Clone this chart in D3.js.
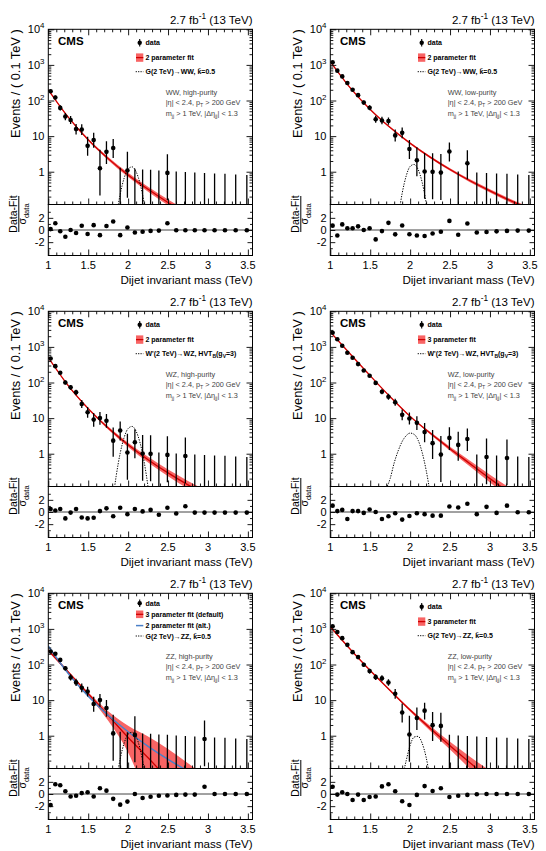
<!DOCTYPE html>
<html>
  <head>
    <meta charset="utf-8">
    <title>Dijet invariant mass fits</title>
    <script src="https://d3js.org/d3.v7.min.js"></script>
    <style>
      body { margin: 0; background: #fff; }
      text { font-family: "Liberation Sans", Arial, Helvetica, sans-serif; }
    </style>
  </head>
  <body>
    <script>
        // dijet mass binning (TeV)
        var binEdges = [1.000, 1.058, 1.118, 1.181, 1.246, 1.313, 1.383, 1.455, 1.530, 1.607, 1.687,
            1.770, 1.856, 1.945, 2.037, 2.132, 2.231, 2.332, 2.438, 2.546, 2.659, 2.775, 2.895,
            3.019, 3.147, 3.279, 3.416, 3.558];
        var xTickValues = [1, 1.5, 2, 2.5, 3, 3.5];
        var xTickLabels = ["1", "1.5", "2", "2.5", "3", "3.5"];
        var logTickPowers = [0, 1, 2, 3, 4];
        var pullTickValues = [-2, 0, 2];
        var pullTickLabels = ["-2", "0", "2"];

        var fitX = [1.0, 1.25, 1.5, 1.75, 2.0, 2.25, 2.5, 2.75, 3.0, 3.25, 3.5];

        // WW high-purity
        var wwHpCounts = [106, 73, 39, 23, 19, 11, 11, 4, 6, 1, 3, 4, 0, 1, 0, 0, 0, 0, 1, 0, 0, 0, 0, 0, 0, 0, 0];
        var wwHpPulls = [0.15, 1.1, -0.2, -1.1, 0, -0.5, 0.7, -0.65, 0.8, -0.85, 0.65, 1.4, -0.85, 0.4,
            -0.4, -0.3, -0.15, -0.1, 1.1, -0.05, -0.05, -0.05, -0.05, -0.05, -0.05, -0.05, -0.05];
        var wwHpFit = [200, 34, 7.9, 2.33, 0.81, 0.32, 0.137, 0.064, 0.032, 0.017, 0.0094];
        var wwHpBand = [0.025, 0.02, 0.03, 0.045, 0.06, 0.07, 0.08, 0.09, 0.1, 0.11, 0.12];
        var wwHpSigX = [1.86, 1.9, 1.95, 2.0, 2.05, 2.1, 2.15, 2.2, 2.25];
        var wwHpSig = [0.072, 0.23, 0.66, 1.19, 1.37, 1.0, 0.46, 0.135, 0.025];

        // WW low-purity
        var wwLpCounts = [684, 414, 300, 201, 134, 99, 63, 47, 23, 22, 22, 9, 11, 4, 2, 1, 1, 1, 4, 0, 2, 0, 0, 0, 0, 0, 0];
        var wwLpPulls = [0.72, -0.9, 0.92, 0.28, 0.3, 0.6, 0, 0.28, -1.55, -0.18, 1.18, -0.72, 0.75, -0.7,
            -0.9, -0.98, -0.58, -0.3, 1.5, -0.78, 1.08, -0.42, -0.32, -0.22, -0.15, -0.1, -0.1];
        var wwLpFit = [1240, 226, 56, 17.4, 6.3, 2.57, 1.15, 0.556, 0.29, 0.156, 0.0886];
        var wwLpBand = [0.02, 0.015, 0.015, 0.02, 0.025, 0.03, 0.035, 0.04, 0.045, 0.05, 0.055];
        var wwLpSigX = [1.86, 1.9, 1.95, 2.0, 2.05, 2.1, 2.15, 2.2, 2.25];
        var wwLpSig = [0.07, 0.245, 0.75, 1.41, 1.6, 1.16, 0.51, 0.137, 0.022];

        // WZ high-purity
        var wzHpCounts = [275, 173, 118, 65, 49, 37, 18, 11, 7, 8, 7, 2, 4, 1, 2, 1, 1, 0, 1, 0, 1, 0, 0, 0, 0, 0, 0];
        var wzHpPulls = [0.5, 0.25, 0.5, -1.05, -0.1, 0.5, -0.9, -1.05, -0.95, 0.15, 0.6, -0.7, 0.7, -0.35,
            0.5, 0.1, 0.35, -0.45, 0.7, -0.25, 0.95, -0.1, -0.1, -0.1, -0.1, -0.1, -0.1];
        var wzHpFit = [500, 81.5, 18.5, 5.27, 1.78, 0.68, 0.289, 0.133, 0.066, 0.034, 0.0186];
        var wzHpBand = [0.02, 0.02, 0.025, 0.04, 0.06, 0.08, 0.095, 0.11, 0.12, 0.13, 0.14];
        var wzHpSigX = [1.8, 1.85, 1.9, 1.95, 2.0, 2.05, 2.1, 2.15, 2.2, 2.25, 2.3];
        var wzHpSig = [0.035, 0.234, 1.02, 2.86, 5.1, 5.85, 4.27, 2.0, 0.6, 0.115, 0.014];

        // WZ low-purity
        var wzLpCounts = [1450, 980, 676, 445, 332, 230, 157, 116, 75, 44, 33, 24, 11, 9, 7, 4, 2, 1, 3, 2, 3, 0, 1, 0, 1, 0, 0];
        var wzLpPulls = [1.05, 0.15, 0.35, -1.15, 0.15, 0.15, -0.15, 0.4, 0, -1.15, -0.7, -0.2, -1.25, -0.65,
            -0.2, -0.35, -0.6, -0.6, 0.9, 0.75, 1.35, -0.35, 0.85, -0.15, 1.05, -0.05, -0.05];
        var wzLpFit = [2630, 631, 155, 39.8, 11.2, 3.8, 1.38, 0.525, 0.2, 0.079, 0.032];
        var wzLpBand = [0.015, 0.01, 0.01, 0.015, 0.02, 0.035, 0.055, 0.08, 0.11, 0.14, 0.17];
        var wzLpSigX = [1.65, 1.7, 1.75, 1.8, 1.85, 1.9, 1.95, 2.0, 2.05, 2.1, 2.15, 2.2, 2.25, 2.3];
        var wzLpSig = [0.04, 0.1, 0.2, 0.55, 1.2, 2.2, 3.2, 3.8, 3.5, 2.4, 1.1, 0.35, 0.08, 0.015];

        // ZZ high-purity
        var zzHpCounts = [135, 120, 85, 51, 29, 22, 16, 13, 6, 8, 5, 1, 0, 0, 1, 0, 0, 0, 0, 0, 0, 0, 1, 0, 0, 0, 0];
        var zzHpPulls = [-1.8, 1.6, 1.45, 0.45, -0.4, -0.3, 0.15, 0.3, -0.4, 0.95, 0.55, -0.8, -1.75, -1.25,
            0, -0.65, -0.45, -0.3, -0.25, -0.15, -0.1, -0.1, 1.2, 0, 0, 0, 0];
        var zzHpFit = [251, 61.7, 15.1, 3.72, 0.89, 0.24, 0.06, 0.014, 0.0032, 0.0008, 0.0002];
        var zzHpBandUp = [0.04, 0.03, 0.04, 0.12, 0.33, 0.6, 0.85, 1.08, 1.3, 1.5, 1.7];
        var zzHpBandDn = [0.04, 0.03, 0.05, 0.15, 0.42, 1.2, 2, 2, 2, 2, 2];
        var zzHpAlt = [330, 55.6, 12.9, 3.77, 1.29, 0.505, 0.217, 0.101, 0.05, 0.027, 0.0148];
        var zzHpSigX = [1.86, 1.9, 1.95, 2.0, 2.05, 2.1, 2.15, 2.2, 2.25];
        var zzHpSig = [0.07, 0.22, 0.62, 1.1, 1.25, 0.95, 0.42, 0.12, 0.025];

        // ZZ low-purity
        var zzLpCounts = [685, 489, 346, 232, 149, 113, 71, 49, 34, 33, 26, 13, 4, 1, 3, 5, 2, 2, 0, 0, 0, 0, 0, 0, 0, 0, 0];
        var zzLpPulls = [1.2, -0.1, 0.3, 0, -1.0, -0.1, -1.0, -0.5, -0.4, 1.25, 1.6, 0.45, -1.2, -1.8,
            -0.15, 1.3, 0.5, 0.95, -0.5, -0.3, -0.15, -0.05, 0, 0, 0, 0, 0];
        var zzLpFit = [1148, 269, 67.6, 18.6, 5.25, 1.62, 0.525, 0.174, 0.06, 0.022, 0.0079];
        var zzLpBand = [0.02, 0.015, 0.015, 0.025, 0.04, 0.07, 0.11, 0.17, 0.24, 0.3, 0.36];
        var zzLpSigX = [1.9, 1.95, 2.0, 2.05, 2.1, 2.15, 2.2, 2.25, 2.3];
        var zzLpSig = [0.06, 0.197, 0.54, 0.917, 0.96, 0.62, 0.25, 0.06, 0.01];

        var sigWW = ["G(2 TeV)\u2192WW, k\u0303=0.5"];
        var sigWZ = ["W'(2 TeV)\u2192WZ, HVT", ["B", "sub"], "(g", ["V", "sub"], "=3)"];
        var sigZZ = ["G(2 TeV)\u2192ZZ, k\u0303=0.5"];
        var cuts1 = ["|\u03b7| < 2.4, p", ["T", "sub"], " > 200 GeV"];
        var cuts2 = ["m", ["jj", "sub"], " > 1 TeV, |\u0394\u03b7", ["jj", "sub"], "| < 1.3"];

        var panels = [
            {col: 0, row: 0, counts: wwHpCounts, pulls: wwHpPulls, fit: wwHpFit, up: wwHpBand, dn: wwHpBand,
             sigX: wwHpSigX, sig: wwHpSig, fitName: "2 parameter fit", sigName: sigWW, region: "WW, high-purity"},
            {col: 1, row: 0, counts: wwLpCounts, pulls: wwLpPulls, fit: wwLpFit, up: wwLpBand, dn: wwLpBand,
             sigX: wwLpSigX, sig: wwLpSig, fitName: "2 parameter fit", sigName: sigWW, region: "WW, low-purity"},
            {col: 0, row: 1, counts: wzHpCounts, pulls: wzHpPulls, fit: wzHpFit, up: wzHpBand, dn: wzHpBand,
             sigX: wzHpSigX, sig: wzHpSig, fitName: "2 parameter fit", sigName: sigWZ, region: "WZ, high-purity"},
            {col: 1, row: 1, counts: wzLpCounts, pulls: wzLpPulls, fit: wzLpFit, up: wzLpBand, dn: wzLpBand,
             sigX: wzLpSigX, sig: wzLpSig, fitName: "3 parameter fit", sigName: sigWZ, region: "WZ, low-purity"},
            {col: 0, row: 2, counts: zzHpCounts, pulls: zzHpPulls, fit: zzHpFit, up: zzHpBandUp, dn: zzHpBandDn,
             alt: zzHpAlt, sigX: zzHpSigX, sig: zzHpSig, fitName: "3 parameter fit (default)",
             altName: "2 parameter fit (alt.)", sigName: sigZZ, region: "ZZ, high-purity"},
            {col: 1, row: 2, counts: zzLpCounts, pulls: zzLpPulls, fit: zzLpFit, up: zzLpBand, dn: zzLpBand,
             sigX: zzLpSigX, sig: zzLpSig, fitName: "3 parameter fit", sigName: sigZZ, region: "ZZ, low-purity"}
        ];

        var fL = 48.3, fR = 252.5, fT = 29.3, fM = 204.5, fB = 255.5;
        var bandColor = "#f86464", lineColor = "#d00000", altColor = "#4a80c8";

        var svg = d3.select("body").append("svg")
            .attr("width", 546)
            .attr("height", 851)
        ;

        // text with sub/superscript pieces
        function rich(t, parts, size) {
            var off = 0;
            parts.forEach(function(p) {
                var s = typeof p === "string" ? p : p[0];
                var kind = typeof p === "string" ? null : p[1];
                var target = kind === "sub" ? size * 0.3 : (kind === "sup" ? -size * 0.45 : 0);
                t.append("tspan")
                    .attr("dy", target - off)
                    .attr("font-size", kind ? size * 0.72 : size)
                    .text(s);
                off = target;
            });
            return t;
        }

        function ticks(g, axis, tr) {
            var a = g.append("g").attr("transform", tr).call(axis);
            a.select(".domain").remove();
            a.selectAll("text").remove();
            a.selectAll("line").attr("stroke", "#000").attr("stroke-width", 0.9);
        }

        function poissonLo(n) {
            if (n === 0) return 0;
            return n * Math.pow(1 - 1 / (9 * n) - 1 / (3 * Math.sqrt(n)), 3);
        }
        function poissonHi(n) {
            if (n === 0) return 1.148;
            return n + Math.sqrt(n + 0.75) + 1;
        }

        var minorX = d3.range(11, 36).map(function(d) { return d / 10; })
            .filter(function(d) { return xTickValues.indexOf(d) < 0; });
        var minorY = [];
        [-1, 0, 1, 2, 3].forEach(function(p) {
            for (var k = 2; k <= 9; k++) {
                var v = k * Math.pow(10, p);
                if (v > 0.12) minorY.push(v);
            }
        });

        panels.forEach(function(p, k) {
            var g = svg.append("g")
                .attr("transform", "translate(" + (p.col * 282) + "," + (p.row * 282) + ")");

            var x = d3.scaleLinear()
                .domain([binEdges[0], binEdges[binEdges.length - 1]])
                .range([fL, fR]);
            var y = d3.scaleLog()
                .domain([0.12, 10000])
                .range([fM, fT]);
            var yr = d3.scaleLinear()
                .domain([-4.2, 4.2])
                .range([fB, fM]);

            g.append("clipPath").attr("id", "clip" + k)
                .append("rect")
                .attr("x", fL).attr("y", fT)
                .attr("width", fR - fL).attr("height", fM - fT);
            var plot = g.append("g").attr("clip-path", "url(#clip" + k + ")");

            var pts = p.counts.map(function(n, i) {
                var w = binEdges[i + 1] - binEdges[i];
                return {
                    x: (binEdges[i] + binEdges[i + 1]) / 2,
                    n: n,
                    v: n * 0.1 / w,
                    lo: poissonLo(n) * 0.1 / w,
                    hi: poissonHi(n) * 0.1 / w,
                    pull: p.pulls[i]
                };
            });

            // fit band and central curve
            var band = d3.area()
                .x(function(d, i) { return x(fitX[i]); })
                .y0(function(d, i) { return y(d * Math.pow(10, -p.dn[i])); })
                .y1(function(d, i) { return y(d * Math.pow(10, p.up[i])); })
                .curve(d3.curveMonotoneX);
            var curve = d3.line()
                .x(function(d, i) { return x(fitX[i]); })
                .y(function(d) { return y(d); })
                .curve(d3.curveMonotoneX);

            plot.append("path").datum(p.fit)
                .attr("d", band)
                .attr("fill", bandColor)
                .attr("stroke", "none");
            plot.append("path").datum(p.fit)
                .attr("d", curve)
                .attr("fill", "none")
                .attr("stroke", lineColor)
                .attr("stroke-width", 1.3);
            if (p.alt) {
                plot.append("path").datum(p.alt)
                    .attr("d", curve)
                    .attr("fill", "none")
                    .attr("stroke", altColor)
                    .attr("stroke-width", 1.5);
            }

            // signal shape
            var sigLine = d3.line()
                .x(function(d, i) { return x(p.sigX[i]); })
                .y(function(d) { return y(d); })
                .curve(d3.curveMonotoneX);
            plot.append("path").datum(p.sig)
                .attr("d", sigLine)
                .attr("fill", "none")
                .attr("stroke", "#000")
                .attr("stroke-width", 1)
                .attr("stroke-dasharray", "1.3,1.3");

            // data
            plot.selectAll("line.err")
                .data(pts)
                .enter()
                .append("line")
                .classed("err", true)
                .attr("x1", function(d) { return x(d.x); })
                .attr("x2", function(d) { return x(d.x); })
                .attr("y1", function(d) { return d.lo > 0.12 ? y(d.lo) : fM + 2; })
                .attr("y2", function(d) { return y(d.hi); })
                .attr("stroke", "#000")
                .attr("stroke-width", 1.3);
            plot.selectAll("circle.dot")
                .data(pts.filter(function(d) { return d.n > 0; }))
                .enter()
                .append("circle")
                .classed("dot", true)
                .attr("cx", function(d) { return x(d.x); })
                .attr("cy", function(d) { return y(d.v); })
                .attr("r", 2.3)
                .attr("fill", "#000");

            // pulls
            g.append("line")
                .attr("x1", fL).attr("x2", fR)
                .attr("y1", yr(0)).attr("y2", yr(0))
                .attr("stroke", "#444")
                .attr("stroke-width", 1);
            g.selectAll("circle.pull")
                .data(pts)
                .enter()
                .append("circle")
                .classed("pull", true)
                .attr("cx", function(d) { return x(d.x); })
                .attr("cy", function(d) { return yr(d.pull); })
                .attr("r", 2.3)
                .attr("fill", "#000");

            // frames
            g.append("rect")
                .attr("x", fL).attr("y", fT)
                .attr("width", fR - fL).attr("height", fM - fT)
                .attr("fill", "none").attr("stroke", "#000").attr("stroke-width", 1);
            g.append("rect")
                .attr("x", fL).attr("y", fM)
                .attr("width", fR - fL).attr("height", fB - fM)
                .attr("fill", "none").attr("stroke", "#000").attr("stroke-width", 1);

            // ticks, pointing inwards
            ticks(g, d3.axisBottom(x).tickValues(xTickValues).tickSize(-6), "translate(0," + fB + ")");
            ticks(g, d3.axisBottom(x).tickValues(minorX).tickSize(-3), "translate(0," + fB + ")");
            ticks(g, d3.axisBottom(x).tickValues(xTickValues).tickSize(-6), "translate(0," + fM + ")");
            ticks(g, d3.axisBottom(x).tickValues(minorX).tickSize(-3), "translate(0," + fM + ")");
            ticks(g, d3.axisTop(x).tickValues(xTickValues).tickSize(-6), "translate(0," + fT + ")");
            ticks(g, d3.axisTop(x).tickValues(minorX).tickSize(-3), "translate(0," + fT + ")");
            var majorY = logTickPowers.map(function(e) { return Math.pow(10, e); });
            ticks(g, d3.axisLeft(y).tickValues(majorY).tickSize(-6), "translate(" + fL + ",0)");
            ticks(g, d3.axisLeft(y).tickValues(minorY).tickSize(-3), "translate(" + fL + ",0)");
            ticks(g, d3.axisRight(y).tickValues(majorY).tickSize(-6), "translate(" + fR + ",0)");
            ticks(g, d3.axisRight(y).tickValues(minorY).tickSize(-3), "translate(" + fR + ",0)");
            ticks(g, d3.axisLeft(yr).tickValues(pullTickValues).tickSize(-5), "translate(" + fL + ",0)");
            ticks(g, d3.axisLeft(yr).tickValues([-3, -1, 1, 3]).tickSize(-2.5), "translate(" + fL + ",0)");
            ticks(g, d3.axisRight(yr).tickValues(pullTickValues).tickSize(-5), "translate(" + fR + ",0)");
            ticks(g, d3.axisRight(yr).tickValues([-3, -1, 1, 3]).tickSize(-2.5), "translate(" + fR + ",0)");

            // tick labels
            g.selectAll("text.xl")
                .data(xTickValues)
                .enter()
                .append("text")
                .classed("xl", true)
                .attr("x", function(d) { return x(d); })
                .attr("y", 268.5)
                .attr("text-anchor", "middle")
                .attr("font-size", 11)
                .text(function(d, i) { return xTickLabels[i]; });
            logTickPowers.forEach(function(e) {
                var t = g.append("text")
                    .attr("x", 44.5)
                    .attr("y", y(Math.pow(10, e)) + 4)
                    .attr("text-anchor", "end")
                    .attr("font-size", 11);
                if (e === 0) t.text("1");
                else if (e === 1) t.text("10");
                else rich(t, ["10", [String(e), "sup"]], 11);
            });
            pullTickValues.forEach(function(v, i) {
                g.append("text")
                    .attr("x", 44.5)
                    .attr("y", yr(v) + 4)
                    .attr("text-anchor", "end")
                    .attr("font-size", 11)
                    .text(pullTickLabels[i]);
            });

            // axis titles
            g.append("text")
                .attr("transform", "translate(19.5," + fT + ") rotate(-90)")
                .attr("text-anchor", "end")
                .attr("font-size", 12.8)
                .text("Events / ( 0.1 TeV )");
            g.append("text")
                .attr("x", fR)
                .attr("y", 283.5)
                .attr("text-anchor", "end")
                .attr("font-size", 11.6)
                .text("Dijet invariant mass (TeV)");
            g.append("text")
                .attr("transform", "translate(16.8,214) rotate(-90)")
                .attr("text-anchor", "middle")
                .attr("font-size", 10.5)
                .text("Data-Fit");
            g.append("line")
                .attr("x1", 18.8).attr("x2", 18.8)
                .attr("y1", 196).attr("y2", 232)
                .attr("stroke", "#000").attr("stroke-width", 1);
            rich(g.append("text")
                .attr("transform", "translate(26,214) rotate(-90)")
                .attr("text-anchor", "middle"), ["\u03c3", ["data", "sub"]], 10.5);

            // header
            rich(g.append("text")
                .attr("x", fR)
                .attr("y", 24.3)
                .attr("text-anchor", "end"), ["2.7 fb", ["-1", "sup"], " (13 TeV)"], 11.5);
            g.append("text")
                .attr("x", 58)
                .attr("y", 45)
                .attr("font-size", 11.5)
                .attr("font-weight", "bold")
                .text("CMS");

            // legend
            var entries = [{type: "data", label: ["data"]}, {type: "band", label: [p.fitName]}];
            if (p.alt) entries.push({type: "alt", label: [p.altName]});
            entries.push({type: "sig", label: p.sigName});
            var ys = p.alt ? [39.3, 50.3, 61.6, 72] : [42.7, 57.6, 71.7];
            var half = p.alt ? 3.8 : 4.2;
            entries.forEach(function(e, i) {
                var yy = ys[i];
                if (e.type === "data") {
                    g.append("line").attr("x1", 139.7).attr("x2", 139.7)
                        .attr("y1", yy - 3.8).attr("y2", yy + 3.8)
                        .attr("stroke", "#000").attr("stroke-width", 1.1);
                    g.append("circle").attr("cx", 139.7).attr("cy", yy).attr("r", 2.2).attr("fill", "#000");
                } else if (e.type === "band") {
                    g.append("rect").attr("x", 136).attr("y", yy - half)
                        .attr("width", 7.3).attr("height", 2 * half).attr("fill", bandColor);
                    g.append("line").attr("x1", 136).attr("x2", 143.3).attr("y1", yy).attr("y2", yy)
                        .attr("stroke", lineColor).attr("stroke-width", 1.3);
                } else if (e.type === "alt") {
                    g.append("line").attr("x1", 136).attr("x2", 143.3).attr("y1", yy).attr("y2", yy)
                        .attr("stroke", altColor).attr("stroke-width", 1.5);
                } else {
                    g.append("line").attr("x1", 135.7).attr("x2", 143.3).attr("y1", yy).attr("y2", yy)
                        .attr("stroke", "#000").attr("stroke-width", 1)
                        .attr("stroke-dasharray", "1.2,1.2");
                }
                rich(g.append("text")
                    .attr("x", 145.5)
                    .attr("y", yy + 2.5)
                    .attr("font-weight", "bold"), e.label, 7);
            });

            // selection text
            [[p.region], cuts1, cuts2].forEach(function(parts, i) {
                rich(g.append("text")
                    .attr("x", 165.7)
                    .attr("y", [95.2, 104.8, 115.5][i])
                    .attr("fill", "#444"), parts, 7.3);
            });
        });
    </script>
  </body>
</html>
